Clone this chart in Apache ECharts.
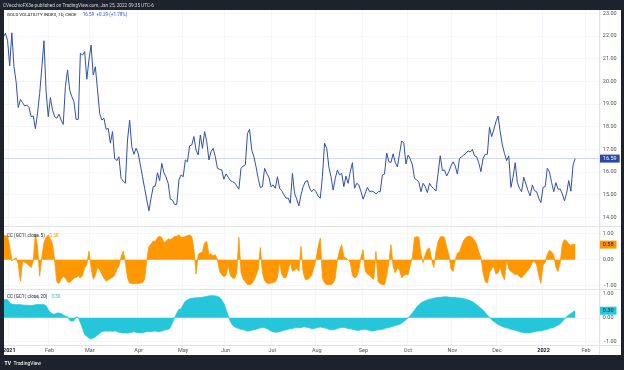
<!DOCTYPE html>
<html><head><meta charset="utf-8">
<script src="https://cdn.jsdelivr.net/npm/echarts@6/dist/echarts.min.js"></script>
<style>html,body{margin:0;padding:0;background:#ffffff}#c{width:624px;height:370px}</style>
</head><body><div id="c"></div>
<script>
// ---- data ----
const headerText = 'CVecchioFX3e published on TradingView.com, Jan 25, 2022 09:35 UTC-6';
const mainTitle = 'GOLD VOLATILITY INDEX, 1D, CBOE';
const mainValueText = '16.59  +0.29 (+1.78%)';
const cc5Title = 'CC (GC1!, close, 5)';
const cc20Title = 'CC (GC1!, close, 20)';
const lastPrice = 16.59;
const lastCC5 = 0.58;
const lastCC20 = 0.30;
const monthNames = ['Jan','Feb','Mar','Apr','May','Jun','Jul','Aug','Sep','Oct','Nov','Dec'];
const holidays = ['2021-01-18','2021-02-15','2021-04-02','2021-05-31','2021-07-05','2021-09-06','2021-11-25','2021-12-24','2022-01-17'];
const firstDay = '2021-01-04';
const lastAxisDay = '2022-02-09';

const priceValues = [
21.95,22.12,21.8,20.68,22.14,20.64,19.98,18.84,19.2,19.06,
18.91,18.95,18.85,18.44,18.47,17.91,18.59,19.47,20.6,21.79,
19.54,18.44,19.28,18.73,18.44,18.37,18.55,18.29,18.1,19.76,
20.5,19.62,19.32,19.1,18.32,18.32,21.24,21.16,21.31,20.09,
20.94,21.6,20.28,20.64,19.62,18.59,18.29,18.37,17.88,17.92,
17.27,17.78,16.6,16.5,16.67,15.72,15.6,15.5,17.41,18.29,
17.12,16.78,17.05,16.82,16.31,15.79,15.28,14.76,14.29,14.84,
15.35,15.38,15.97,15.62,16.38,15.97,15.77,15.5,14.8,14.76,
14.57,14.57,15.65,15.87,15.79,16.53,16.45,17.16,17.19,17.56,
16.97,16.75,17.63,17.04,17.78,17.34,16.53,16.9,17.04,16.67,
16.16,16.12,16.09,15.68,15.91,15.77,15.62,15.57,15.53,15.38,
15.24,16.16,16.26,16.31,17.7,17.88,16.97,16.67,16.23,15.72,
15.32,15.35,16.16,15.94,15.77,15.35,15.43,15.28,15.79,15.28,
15.18,14.99,14.84,14.85,14.62,15.94,15.06,14.8,14.5,14.99,
15.35,15.57,15.62,15.28,15.13,15.24,15.13,14.94,14.84,15.79,
17.27,17.04,16.23,15.79,15.2,15.72,16.09,15.87,15.94,15.35,
15.82,15.5,16.01,16.41,15.28,15.5,15.43,15.13,14.8,15.06,
15.32,15.13,15.16,15.12,15.03,15.13,15.13,15.87,15.91,16.84,
16.45,16.42,16.8,16.42,16.22,16.8,17.37,17.27,16.35,16.75,
16.57,16.31,15.72,15.65,15.57,15.13,15.5,15.35,15.09,15.5,
15.35,15.26,15.16,15.94,16.72,16.06,16.09,15.82,16.01,16.26,
16.45,16.26,15.91,16.6,16.67,16.75,16.82,16.93,16.88,17.0,
16.71,16.67,16.41,16.01,16.6,16.78,16.78,17.97,17.56,17.85,
18.22,18.47,17.78,17.19,16.82,16.5,16.71,15.32,15.77,16.41,
15.53,15.28,15.13,15.77,15.47,15.17,14.94,15.43,15.17,15.13,
14.84,14.65,15.32,15.35,16.16,16.01,15.53,15.13,15.53,15.24,
15.25,15.03,14.73,15.06,15.62,15.15,16.3,16.59];

const cc5Values = [
0.93,0.92,0.9,0.5,-0.05,0.02,0.08,-0.18,-0.82,-0.05,
-0.1,-0.15,-0.22,-0.31,-0.05,1.0,0.5,-0.63,0.1,0.65,
0.85,0.95,0.8,0.6,-0.05,-0.85,-0.92,-0.75,-0.65,-0.7,
-0.85,-0.88,-0.8,-0.7,-0.68,-0.62,-0.7,-0.6,-0.3,-0.2,
0.33,-0.3,-0.75,-0.6,-0.3,-0.38,-0.56,-0.7,-0.82,-0.78,
-0.72,-0.68,-0.6,-0.38,-0.25,0.1,0.33,-0.1,-0.7,-0.9,
-0.92,-0.93,-0.9,-0.92,-0.9,-0.88,-0.75,0.0,0.5,0.6,
0.72,0.7,0.85,0.9,0.85,0.65,0.7,0.8,0.78,0.82,
0.9,0.88,0.97,0.85,0.85,0.9,0.92,0.95,0.9,0.4,
-0.55,0.2,0.26,0.3,0.65,0.7,0.2,0.22,0.15,0.19,
0.0,-0.45,-0.58,-0.65,-0.6,-0.2,-0.6,-0.7,-0.72,-0.5,
0.86,-0.5,-0.75,-0.85,-0.95,-0.96,-0.92,-0.8,-0.6,-0.4,
0.47,-0.5,-0.8,-0.9,-0.92,-0.9,-0.88,-0.85,-0.7,-0.06,
-0.55,-0.7,-0.68,-0.4,-0.1,-0.45,-0.4,-0.32,-0.45,0.51,
-0.5,-0.75,-0.77,-0.7,-0.6,-0.3,0.0,0.5,0.83,-0.7,
-0.9,-0.96,-0.95,-0.96,-0.9,-0.7,0.0,0.35,0.58,0.1,
0.06,0.0,-0.1,-0.6,-0.7,-0.65,-0.4,0.1,0.38,-0.45,
-0.55,-0.6,-0.7,-0.75,0.32,-0.85,-0.92,-0.95,-0.96,-0.6,
-0.1,0.58,-0.25,-0.5,-0.32,-0.4,-0.7,-0.6,-0.55,-0.58,
-0.2,0.1,0.85,0.88,0.87,0.2,-0.12,0.2,0.4,0.45,
0.0,-0.3,0.3,0.7,0.87,0.9,0.85,0.5,0.2,-0.35,
-0.45,0.0,0.25,0.3,0.55,0.75,0.85,0.9,0.9,0.85,
0.75,0.6,0.3,0.1,-0.5,-0.85,-0.9,-0.5,-0.35,-0.26,
-0.55,-0.5,-0.3,-0.6,-0.77,0.0,-0.35,-0.45,-0.5,-0.58,
-0.55,-0.65,-0.7,-0.6,-0.5,-0.4,-0.3,-0.1,-0.06,-0.2,
-0.6,-0.9,-0.2,-0.1,0.2,0.36,0.3,0.19,-0.3,-0.45,
-0.13,0.6,0.77,0.72,0.6,0.55,0.6,0.58];

const cc20Values = [
0.74,0.77,0.76,0.62,0.58,0.56,0.55,0.56,0.55,0.54,
0.53,0.53,0.52,0.52,0.53,0.55,0.56,0.56,0.55,0.56,
0.5,0.35,0.22,0.17,0.15,0.2,0.2,0.18,0.12,0.07,
0.05,-0.1,-0.14,-0.12,0.04,0.02,-0.2,-0.45,-0.7,-0.77,
-0.85,-0.88,-0.85,-0.8,-0.72,-0.65,-0.58,-0.56,-0.55,-0.56,
-0.55,-0.56,-0.55,-0.57,-0.6,-0.62,-0.63,-0.63,-0.64,-0.62,
-0.6,-0.58,-0.6,-0.62,-0.63,-0.62,-0.6,-0.58,-0.57,-0.58,
-0.56,-0.55,-0.57,-0.58,-0.55,-0.52,-0.5,-0.49,-0.4,-0.2,
0.0,0.2,0.35,0.38,0.55,0.7,0.75,0.8,0.82,0.83,
0.84,0.84,0.85,0.86,0.88,0.9,0.92,0.93,0.93,0.92,
0.9,0.85,0.75,0.6,0.35,0.1,-0.15,-0.3,-0.38,-0.42,
-0.45,-0.48,-0.5,-0.52,-0.55,-0.55,-0.52,-0.5,-0.48,-0.45,
-0.42,-0.4,-0.42,-0.45,-0.5,-0.55,-0.58,-0.6,-0.6,-0.58,
-0.55,-0.52,-0.5,-0.48,-0.45,-0.45,-0.42,-0.4,-0.42,-0.4,
-0.38,-0.38,-0.4,-0.42,-0.45,-0.45,-0.42,-0.4,-0.38,-0.4,
-0.42,-0.45,-0.48,-0.5,-0.5,-0.48,-0.45,-0.42,-0.4,-0.4,
-0.42,-0.45,-0.45,-0.48,-0.5,-0.52,-0.52,-0.5,-0.48,-0.48,
-0.5,-0.52,-0.55,-0.55,-0.52,-0.5,-0.5,-0.48,-0.45,-0.42,
-0.4,-0.38,-0.35,-0.32,-0.3,-0.28,-0.22,-0.15,-0.08,0.0,
0.1,0.2,0.32,0.45,0.55,0.62,0.68,0.72,0.75,0.78,
0.8,0.82,0.84,0.85,0.86,0.87,0.88,0.88,0.87,0.86,
0.85,0.85,0.84,0.83,0.82,0.8,0.78,0.75,0.72,0.68,
0.62,0.55,0.48,0.4,0.32,0.22,0.12,0.02,-0.08,-0.15,
-0.22,-0.28,-0.32,-0.36,-0.4,-0.42,-0.45,-0.48,-0.5,-0.52,
-0.55,-0.58,-0.6,-0.62,-0.62,-0.63,-0.62,-0.6,-0.58,-0.56,
-0.55,-0.55,-0.52,-0.5,-0.48,-0.45,-0.42,-0.4,-0.35,-0.3,
-0.25,-0.15,-0.05,0.05,0.12,0.18,0.25,0.3];

// ---- trading-day categories ----
function fmt(d){const m=d.getUTCMonth()+1, dd=d.getUTCDate();return d.getUTCFullYear()+'-'+(m<10?'0':'')+m+'-'+(dd<10?'0':'')+dd;}
const dates = [];
(function(){
  const p1 = firstDay.split('-').map(Number), p2 = lastAxisDay.split('-').map(Number);
  let t = Date.UTC(p1[0],p1[1]-1,p1[2]); const end = Date.UTC(p2[0],p2[1]-1,p2[2]);
  while (t <= end) { const d = new Date(t); const wd = d.getUTCDay(); const s = fmt(d);
    if (wd !== 0 && wd !== 6 && holidays.indexOf(s) < 0) dates.push(s); t += 86400000; }
})();
const isMonthStart = dates.map((d,i)=> i===0 || d.slice(5,7)!==dates[i-1].slice(5,7));

// ---- chart ----
const FONT = 'Roboto, sans-serif';
const LBL = '#50535e';
const GRIDC = '#f4f6fb';
const DARK = '#1e222d';
const SEP = '#e0e3eb';
const L = 2.2, R = 24.2;
const chart = echarts.init(document.getElementById('c'), null, {renderer:'canvas'});

function xAx(i, show){
  return {type:'category', gridIndex:i, data:dates, boundaryGap:true, show:show,
    axisLine:{show:false}, axisTick:{show:false},
    axisLabel:{show:show, interval:(idx)=>isMonthStart[idx], fontSize:5.5, fontFamily:FONT, color:LBL, margin:3,
      formatter:(v)=>{const m=+v.slice(5,7); return m===1 ? '{y|'+v.slice(0,4)+'}' : monthNames[m-1];},
      rich:{y:{fontWeight:'bold', fontSize:5.5, fontFamily:FONT, color:'#131722'}}},
    splitLine:{show:show, interval:(idx)=>isMonthStart[idx], lineStyle:{color:GRIDC, width:1}}};
}
function yAx(i, min, max, f){
  return {type:'value', gridIndex:i, position:'right', min:min, max:max, interval:1,
    axisLine:{show:false}, axisTick:{show:false},
    axisLabel:{fontSize:5.5, fontFamily:FONT, color:LBL, margin:3, align:'left', formatter:f},
    splitLine:{lineStyle:{color:GRIDC, width:1}}};
}
const ccFmt = v => (v<0?'\u2212':'') + Math.abs(v).toFixed(2);

function boxLine(val, bg, fg, lineColor){
  return {silent:true, symbol:['none','none'], animation:false,
    lineStyle:{color:lineColor, width:1, type:'solid'},
    label:{show:true, position:'end', distance:0, formatter:()=>val.toFixed(2), backgroundColor:bg, color:fg,
      fontSize:5.5, fontFamily:FONT, padding:[1,3,1,3]},
    emphasis:{disabled:true},
    data:[{yAxis:val}]};
}

const option = {
  animation:false,
  backgroundColor:'#ffffff',
  grid:[
    {left:L, right:R, top:13.3, height:204},
    {left:L, right:R, top:233.7, height:52},
    {left:L, right:R, top:294, height:47.7},
    {left:L, right:R, top:10, height:335}
  ],
  xAxis:[xAx(0,false), xAx(1,false), xAx(2,false), xAx(3,true)],
  yAxis:[
    yAx(0,14,23,v=>v.toFixed(2)),
    yAx(1,-1,1,ccFmt),
    yAx(2,-1,1,ccFmt),
    {type:'value', gridIndex:3, show:false}
  ],
  series:[
    {type:'line', xAxisIndex:0, yAxisIndex:0, data:priceValues, showSymbol:false, symbol:'none',
      lineStyle:{color:'#3150b0', width:1}, z:5,
      markLine:boxLine(lastPrice,'#2a46a8','#ffffff','#d3d8f0')},
    {type:'line', xAxisIndex:1, yAxisIndex:1, data:cc5Values, showSymbol:false, symbol:'none',
      lineStyle:{color:'#ff9800', width:0.8}, areaStyle:{color:'#ff9800', opacity:1, origin:0},
      markLine:boxLine(lastCC5,'#ff9800','#131722','rgba(0,0,0,0)')},
    {type:'line', xAxisIndex:2, yAxisIndex:2, data:cc20Values, showSymbol:false, symbol:'none',
      lineStyle:{color:'#26c6da', width:0.8}, areaStyle:{color:'#26c6da', opacity:1, origin:0},
      markLine:boxLine(lastCC20,'#26c6da','#131722','rgba(0,0,0,0)')}
  ],
  graphic:[
    {type:'line', z:50, shape:{x1:4, y1:226.5, x2:621, y2:226.5}, style:{stroke:SEP, lineWidth:1}},
    {type:'line', z:50, shape:{x1:4, y1:289.5, x2:621, y2:289.5}, style:{stroke:SEP, lineWidth:1}},
    {type:'line', z:50, shape:{x1:4, y1:345.5, x2:621, y2:345.5}, style:{stroke:SEP, lineWidth:1}},
    {type:'line', z:50, shape:{x1:599.5, y1:10, x2:599.5, y2:355}, style:{stroke:SEP, lineWidth:1}},
    {type:'rect', z:100, shape:{x:0, y:0, width:624, height:10}, style:{fill:DARK}},
    {type:'rect', z:100, shape:{x:0, y:355, width:624, height:15}, style:{fill:DARK}},
    {type:'rect', z:100, shape:{x:0, y:0, width:4, height:370}, style:{fill:DARK}},
    {type:'rect', z:100, shape:{x:621, y:0, width:3, height:370}, style:{fill:DARK}},
    {type:'text', z:101, style:{text:headerText, x:3, y:5.5, fill:'#d1d4dc', font:'4.7px '+FONT, verticalAlign:'middle'}},
    {type:'text', z:101, style:{text:'TV', x:4.5, y:363.5, fill:'#ffffff', font:'bold 5px '+FONT, verticalAlign:'middle'}},
    {type:'text', z:101, style:{text:'TradingView', x:13.5, y:363.5, fill:'#ffffff', font:'5px '+FONT, verticalAlign:'middle'}},
    {type:'text', z:101, style:{text:mainTitle, x:7, y:15, fill:'#131722', font:'4.4px '+FONT, verticalAlign:'middle'}},
    {type:'text', z:101, style:{text:mainValueText, x:82.7, y:15, fill:'#2f55d4', font:'4.6px '+FONT, verticalAlign:'middle'}},
    {type:'text', z:101, style:{text:cc5Title, x:7, y:235.7, fill:'#131722', font:'4.6px '+FONT, verticalAlign:'middle'}},
    {type:'text', z:101, style:{text:lastCC5.toFixed(2), x:49.5, y:235.7, fill:'#ff9800', font:'4.6px '+FONT, verticalAlign:'middle'}},
    {type:'text', z:101, style:{text:cc20Title, x:7, y:297.3, fill:'#131722', font:'4.6px '+FONT, verticalAlign:'middle'}},
    {type:'text', z:101, style:{text:lastCC20.toFixed(2), x:51.5, y:297.3, fill:'#26c6da', font:'4.6px '+FONT, verticalAlign:'middle'}}
  ]
};
chart.setOption(option);
</script></body></html>
